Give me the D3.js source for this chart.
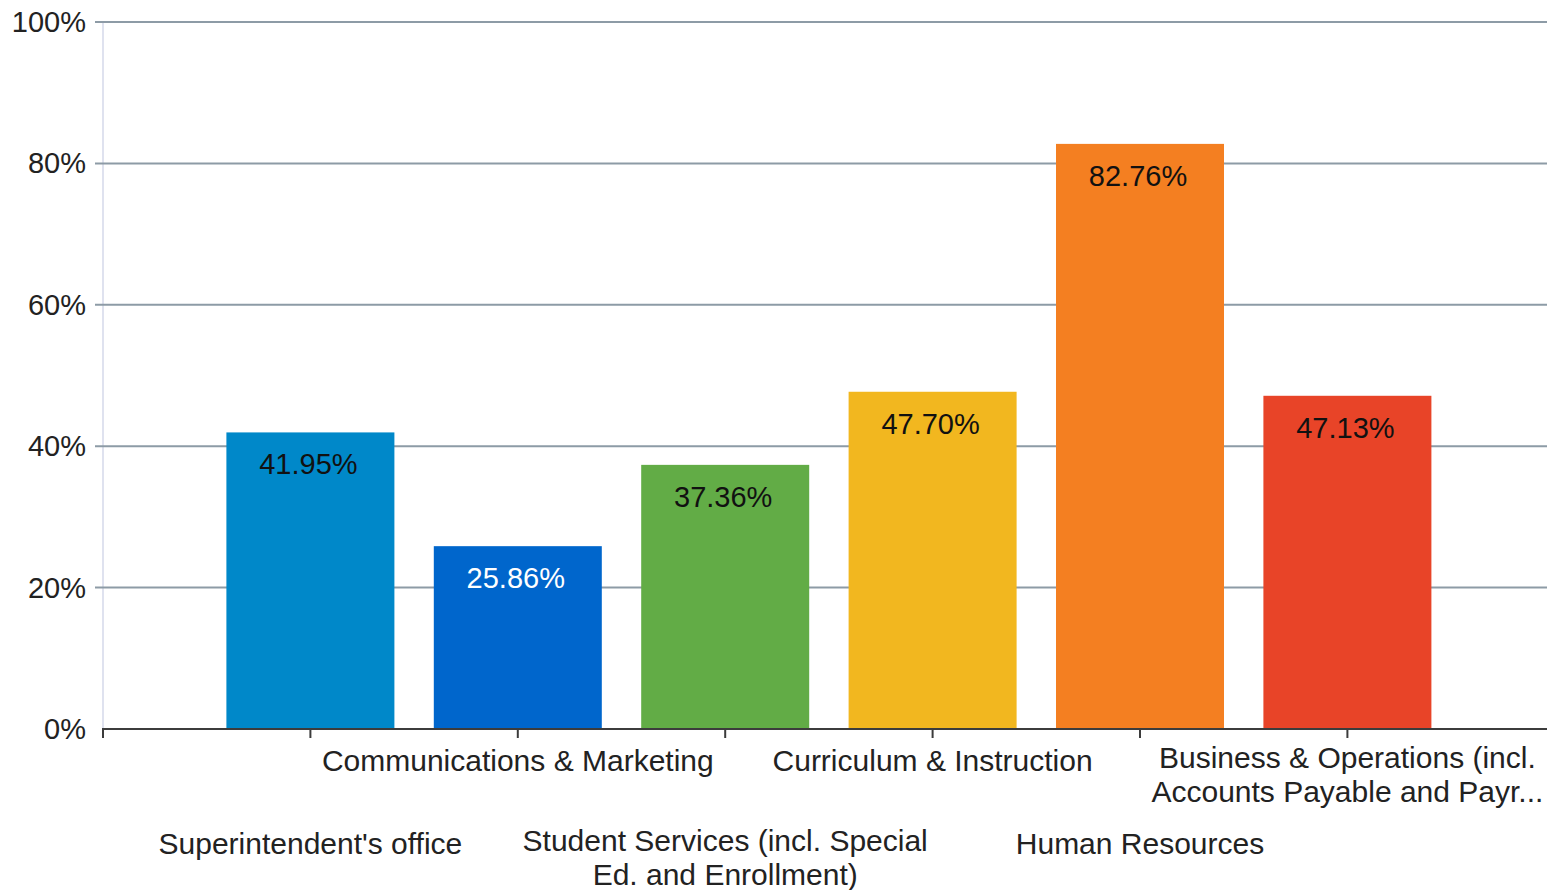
<!DOCTYPE html>
<html>
<head>
<meta charset="utf-8">
<script src="https://cdn.jsdelivr.net/npm/d3@7"></script>
<style>
  body { margin: 0; background: #fff; }
  text { font-family: "Liberation Sans", Arial, sans-serif; }
</style>
</head>
<body>
<svg width="1547" height="890"></svg>
<script>
const departments = [
    "Superintendent's office",
    "Communications & Marketing",
    "Student Services (incl. Special Ed. and Enrollment)",
    "Curriculum & Instruction",
    "Human Resources",
    "Business & Operations (incl. Accounts Payable and Payroll)"
];
const percents = [41.95, 25.86, 37.36, 47.70, 82.76, 47.13];
const barColors = ["#0088c9", "#0066cc", "#62ac46", "#f2b71f", "#f47f21", "#e84428"];
const labelColors = ["#111", "#fff", "#111", "#111", "#111", "#111"];
const yTicks = [0, 20, 40, 60, 80, 100];

const svg = d3.select("svg");
const width = +svg.attr("width");
const height = +svg.attr("height");
const plotLeft = 103, plotTop = 22, plotBottom = 729;

// first slot on the axis stays empty, like the original chart
const x = d3.scalePoint()
    .domain(["", ...departments, " "])
    .range([plotLeft, plotLeft + 7 * 207.4]);
const y = d3.scaleLinear().domain([0, 100]).range([plotBottom, plotTop]);
const barW = 168;

const data = departments.map((d, i) => ({ name: d, value: percents[i], color: barColors[i], lc: labelColors[i], i }));

// y axis line
svg.append("line")
    .attr("x1", plotLeft).attr("x2", plotLeft)
    .attr("y1", plotTop).attr("y2", plotBottom)
    .attr("stroke", "#dfe2ef").attr("stroke-width", 2);

// gridlines + tick labels
svg.selectAll(".grid")
    .data(yTicks.filter(t => t > 0))
    .join("line")
    .attr("class", "grid")
    .attr("x1", plotLeft - 8).attr("x2", width)
    .attr("y1", d => y(d)).attr("y2", d => y(d))
    .attr("stroke", "#8d9ba6").attr("stroke-width", 2);

svg.selectAll(".ylab")
    .data(yTicks)
    .join("text")
    .attr("class", "ylab")
    .attr("x", 86)
    .attr("y", d => y(d) + 10)
    .attr("text-anchor", "end")
    .style("font-size", "29px")
    .style("fill", "#222")
    .text(d => d + "%");

// bars
svg.selectAll(".bar")
    .data(data)
    .join("rect")
    .attr("class", "bar")
    .attr("x", d => x(d.name) - barW / 2)
    .attr("width", barW)
    .attr("y", d => y(d.value))
    .attr("height", d => plotBottom - y(d.value))
    .attr("fill", d => d.color);

svg.selectAll(".vlab")
    .data(data)
    .join("text")
    .attr("class", "vlab")
    .attr("x", d => x(d.name) - 2)
    .attr("y", d => y(d.value) + 42)
    .attr("text-anchor", "middle")
    .style("font-size", "29px")
    .style("fill", d => d.lc)
    .text(d => d.value.toFixed(2) + "%");

// x axis
svg.append("line")
    .attr("x1", plotLeft - 1).attr("x2", width)
    .attr("y1", plotBottom).attr("y2", plotBottom)
    .attr("stroke", "#3c3c3c").attr("stroke-width", 2);
svg.selectAll(".xtick")
    .data([""].concat(departments))
    .join("line")
    .attr("class", "xtick")
    .attr("x1", d => x(d)).attr("x2", d => x(d))
    .attr("y1", plotBottom).attr("y2", plotBottom + 9)
    .attr("stroke", "#3c3c3c").attr("stroke-width", 2);

// category labels, staggered on two rows, wrapped and truncated
const maxLine = 415;
const lineH = 34;
const xl = svg.selectAll(".xlab")
    .data(data)
    .join("text")
    .attr("class", "xlab")
    .attr("text-anchor", "middle")
    .style("font-size", "30px")
    .style("fill", "#222");

xl.each(function (d) {
    const t = d3.select(this);
    const words = d.name.split(" ");
    const lines = [];
    let cur = [];
    const probe = t.append("tspan");
    words.forEach(w => {
        const test = cur.concat(w).join(" ");
        probe.text(test);
        if (probe.node().getComputedTextLength() > maxLine && cur.length) {
            lines.push(cur.join(" "));
            cur = [w];
        } else cur.push(w);
    });
    lines.push(cur.join(" "));
    probe.remove();

    const cx = x(d.name);
    const row = d.i % 2 === 1 ? 0 : 1;
    const base = row === 0 ? 771 : 854;
    const y0 = base - (lines.length - 1) * 3;
    lines.forEach((ln, k) => {
        const sp = t.append("tspan").attr("x", cx).attr("y", y0 + k * lineH).text(ln);
        let len = sp.node().getComputedTextLength();
        let s = ln;
        while (cx + len / 2 > width && s.length > 3) {
            s = s.slice(0, -1);
            sp.text(s + "...");
            len = sp.node().getComputedTextLength();
        }
    });
});
</script>
</body>
</html>
